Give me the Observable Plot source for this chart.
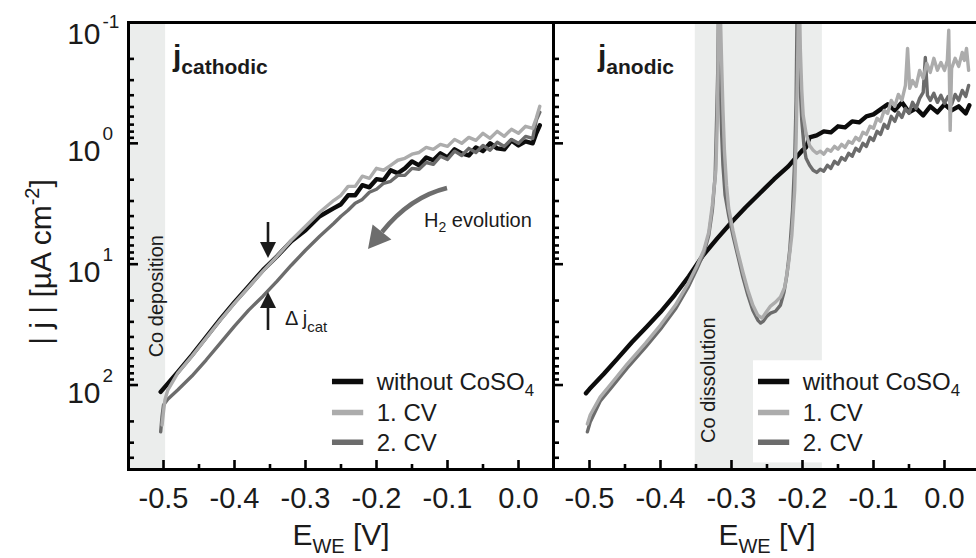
<!DOCTYPE html>
<html>
<head>
<meta charset="utf-8">
<script src="https://cdn.jsdelivr.net/npm/d3@7"></script>
<script src="https://cdn.jsdelivr.net/npm/@observablehq/plot@0.6"></script>
<style>
  body { margin: 0; background: #fff; }
  #wrap { position: relative; width: 976px; height: 558px; overflow: hidden; background: #fff; }
  #wrap svg { position: absolute; top: 0; }
</style>
</head>
<body>
<div id="wrap"></div>
<script>
// ---------------- data ----------------
const xMajor = [-0.5, -0.4, -0.3, -0.2, -0.1, 0.0];
const xMinor = [-0.45, -0.35, -0.25, -0.15, -0.05];
const yMajor = [0.1, 1, 10, 100];
const yExponents = ["-1", "0", "1", "2"];
const yMinor = [0.2,0.3,0.4,0.5,0.6,0.7,0.8,0.9,2,3,4,5,6,7,8,9,20,30,40,50,60,70,80,90,200,300,400];
const seriesNames = ["without CoSO4", "1. CV", "2. CV"];
const panelNames = [["j", "cathodic"], ["j", "anodic"]];
const bandNames = ["Co deposition", "Co dissolution"];

// cathodic panel
const cathE_without = [-0.504,-0.48,-0.46,-0.44,-0.42,-0.40,-0.38,-0.36,-0.34,-0.32,-0.30,-0.28,-0.26,-0.25,-0.24,-0.23,-0.22,-0.21,-0.20,-0.19,-0.18,-0.17,-0.16,-0.15,-0.14,-0.13,-0.12,-0.11,-0.10,-0.09,-0.08,-0.07,-0.06,-0.05,-0.04,-0.03,-0.02,-0.01,0.00,0.01,0.02,0.025,0.03];
const cathJ_without = [114,78.1,56.5,40.1,28.5,20.6,15.2,11.2,8.59,6.45,5.24,4.01,3.44,3.19,2.69,2.69,2.22,2.31,1.98,2.02,1.67,1.77,1.61,1.41,1.52,1.31,1.38,1.21,1.31,1.12,1.21,1.26,1.08,1.16,1.00,1.10,1.12,0.945,1.04,0.963,1.00,0.826,0.710];
const cathE_cv1 = [-0.502,-0.500,-0.498,-0.494,-0.48,-0.46,-0.44,-0.42,-0.40,-0.38,-0.36,-0.34,-0.32,-0.30,-0.28,-0.26,-0.25,-0.24,-0.23,-0.22,-0.21,-0.20,-0.19,-0.18,-0.17,-0.16,-0.15,-0.14,-0.13,-0.12,-0.11,-0.10,-0.09,-0.08,-0.07,-0.06,-0.05,-0.04,-0.03,-0.02,-0.01,0.00,0.01,0.02,0.025,0.03];
const cathJ_cv1 = [214,166,133,110,79.7,57.6,40.9,29.0,21.0,15.5,11.4,8.59,6.34,4.86,3.72,2.96,2.69,2.27,2.27,1.87,1.95,1.61,1.67,1.52,1.38,1.33,1.23,1.19,1.08,1.12,1.02,1.06,0.927,1.00,0.892,0.945,0.826,0.909,0.796,0.875,0.766,0.826,0.723,0.751,0.621,0.494];
const cathE_cv2 = [-0.504,-0.502,-0.500,-0.494,-0.48,-0.46,-0.44,-0.42,-0.40,-0.38,-0.36,-0.34,-0.32,-0.30,-0.28,-0.26,-0.25,-0.24,-0.23,-0.22,-0.21,-0.20,-0.19,-0.18,-0.17,-0.16,-0.15,-0.14,-0.13,-0.12,-0.11,-0.10,-0.09,-0.08,-0.07,-0.06,-0.05,-0.04,-0.03,-0.02,-0.01,0.00,0.01,0.02,0.025,0.03];
const cathJ_cv2 = [244,180,146,131,110,84.3,62.1,45.0,32.5,24.0,18.4,13.8,10.2,7.67,5.87,4.58,4.01,3.58,3.13,2.91,2.54,2.40,2.14,2.06,1.84,1.84,1.61,1.64,1.44,1.49,1.28,1.36,1.16,1.26,1.10,1.19,1.04,1.14,0.981,1.06,0.927,1.00,0.875,0.909,0.645,0.554];

// anodic panel
const anodE_without = [-0.505,-0.50,-0.48,-0.46,-0.44,-0.42,-0.40,-0.38,-0.36,-0.34,-0.32,-0.30,-0.28,-0.26,-0.24,-0.22,-0.21,-0.20,-0.195,-0.19,-0.18,-0.17,-0.16,-0.15,-0.14,-0.13,-0.12,-0.11,-0.10,-0.09,-0.08,-0.07,-0.06,-0.05,-0.04,-0.03,-0.02,-0.01,0.00,0.01,0.02,0.03,0.035];
const anodJ_without = [117,108,81.1,59.9,44.1,33.2,24.9,18.0,12.6,8.45,6.11,4.50,3.38,2.59,1.98,1.55,1.33,1.14,1.08,0.892,0.859,0.796,0.811,0.723,0.737,0.658,0.670,0.598,0.576,0.524,0.476,0.534,0.458,0.554,0.514,0.587,0.494,0.554,0.476,0.534,0.494,0.565,0.485];
const anodE_cv1 = [-0.503,-0.499,-0.485,-0.471,-0.447,-0.421,-0.400,-0.379,-0.361,-0.349,-0.339,-0.332,-0.327,-0.322,-0.320,-0.317,-0.314,-0.312,-0.310,-0.307,-0.304,-0.298,-0.291,-0.284,-0.277,-0.270,-0.263,-0.257,-0.252,-0.245,-0.238,-0.231,-0.225,-0.220,-0.215,-0.211,-0.209,-0.207,-0.205,-0.203,-0.201,-0.199,-0.195,-0.190,-0.185,-0.180,-0.175,-0.170,-0.165,-0.160,-0.155,-0.150,-0.145,-0.140,-0.135,-0.130,-0.125,-0.120,-0.115,-0.110,-0.105,-0.100,-0.095,-0.090,-0.085,-0.080,-0.075,-0.070,-0.065,-0.060,-0.055,-0.052,-0.049,-0.045,-0.040,-0.035,-0.030,-0.025,-0.020,-0.015,-0.010,-0.005,0.000,0.004,0.006,0.008,0.010,0.015,0.020,0.025,0.028,0.031,0.034];
const anodJ_cv1 = [210,177,126,100,67.0,45.0,31.9,21.8,14.4,10.4,7.67,5.44,3.25,1.67,0.645,0.04,0.206,0.534,1.14,2.22,3.44,5.24,7.97,11.6,16.4,21.8,26.4,27.9,25.4,22.2,20.6,18.7,15.5,10.2,5.76,2.45,0.945,0.249,0.04,0.170,0.365,0.587,0.826,1.04,1.14,1.21,1.16,1.23,1.12,1.16,1.06,1.12,1.02,1.08,0.963,1.00,0.892,0.945,0.811,0.843,0.723,0.751,0.621,0.658,0.534,0.565,0.441,0.494,0.394,0.441,0.332,0.164,0.351,0.302,0.338,0.249,0.290,0.218,0.259,0.198,0.249,0.214,0.249,0.206,0.116,0.781,0.240,0.198,0.231,0.177,0.206,0.164,0.249];
const anodE_cv2 = [-0.503,-0.499,-0.485,-0.471,-0.447,-0.421,-0.400,-0.379,-0.361,-0.349,-0.339,-0.332,-0.327,-0.323,-0.321,-0.319,-0.318,-0.316,-0.314,-0.312,-0.309,-0.304,-0.298,-0.291,-0.284,-0.277,-0.270,-0.263,-0.259,-0.255,-0.250,-0.245,-0.238,-0.231,-0.226,-0.222,-0.218,-0.214,-0.211,-0.209,-0.207,-0.205,-0.203,-0.201,-0.198,-0.195,-0.190,-0.185,-0.180,-0.175,-0.170,-0.165,-0.160,-0.155,-0.150,-0.145,-0.140,-0.135,-0.130,-0.125,-0.120,-0.115,-0.110,-0.105,-0.100,-0.095,-0.090,-0.085,-0.080,-0.075,-0.070,-0.065,-0.060,-0.055,-0.050,-0.045,-0.040,-0.035,-0.030,-0.027,-0.024,-0.020,-0.015,-0.010,-0.005,0.000,0.005,0.010,0.015,0.020,0.025,0.030,0.034];
const anodJ_cv2 = [244,202,136,108,72.4,48.5,34.5,23.5,15.5,11.0,8.11,5.76,3.58,1.84,0.645,0.206,0.04,0.249,0.781,1.52,2.69,3.94,5.76,8.59,12.8,18.0,24.0,29.0,30.7,29.6,26.9,25.4,24.5,21.8,17.0,12.3,7.67,3.58,1.38,0.441,0.04,0.141,0.365,0.645,1.04,1.33,1.52,1.67,1.74,1.64,1.70,1.52,1.61,1.41,1.49,1.31,1.38,1.21,1.28,1.10,1.16,1.00,1.06,0.892,0.945,0.796,0.843,0.696,0.751,0.598,0.658,0.554,0.610,0.514,0.565,0.458,0.514,0.425,0.379,0.195,0.401,0.441,0.386,0.458,0.401,0.467,0.409,0.476,0.394,0.441,0.365,0.409,0.332];

// ---------------- styling ----------------
const FONT = "'Liberation Sans', Arial, Helvetica, sans-serif";
const INK = "#1b1b1b";
const COLORS = ["#0c0c0c", "#acacac", "#6c6c6c"];
const WIDTHS = [4.4, 3.4, 3.4];
const BAND = "#ebedec";
const Y_DOMAIN = [0.1, 500];

const zip = (E, J) => E.map((e, i) => ({E: e, J: J[i]}));

function rich(svg, x, y, parts, opt = {}) {
  const t = d3.select(svg).append("text")
    .attr("x", x).attr("y", y)
    .attr("font-family", FONT)
    .attr("fill", opt.fill || INK)
    .attr("text-anchor", opt.anchor || "start");
  if (opt.weight) t.attr("font-weight", opt.weight);
  if (opt.rotate) t.attr("transform", `rotate(${opt.rotate},${x},${y})`);
  let shift = 0;
  for (const p of parts) {
    const s = t.append("tspan").attr("font-size", p.size).text(p.text);
    const target = p.shift || 0;
    if (target !== shift) { s.attr("dy", target - shift); shift = target; }
  }
  return t;
}

function nameParts(name, size) {
  const m = name.match(/^(.*[A-Za-z])(\d)$/);
  if (m) return [{text: m[1], size}, {text: m[2], size: size * 0.7, shift: 6}];
  return [{text: name, size}];
}

function panel({width, marginLeft, xDomain, series, band, bandLabel, legendBox, yLabels}) {
  const marks = [];
  marks.push(Plot.rect([band], {x1: d => d[0], x2: d => d[1], y1: Y_DOMAIN[0], y2: Y_DOMAIN[1], fill: BAND}));
  if (legendBox) marks.push(Plot.rect([legendBox], {x1: d => d[0], x2: d => d[1], y1: d => d[2], y2: d => d[3], fill: "white"}));
  marks.push(Plot.text([bandLabel.text], {x: bandLabel.x, y: bandLabel.y, text: d => d, rotate: -90, fontSize: 20, fill: INK, textAnchor: "middle"}));
  // series: draw black first, then 2. CV, then 1. CV on top
  for (const i of [0, 2, 1]) {
    marks.push(Plot.line(series[i], {x: "E", y: "J", stroke: COLORS[i], strokeWidth: WIDTHS[i], strokeLinejoin: "round", strokeLinecap: "round", clip: true}));
  }
  marks.push(Plot.frame({stroke: "black", strokeWidth: 3}));
  marks.push(Plot.axisY({ticks: yMajor, tickSize: -10, tickFormat: () => "", strokeWidth: 2.6, label: null}));
  marks.push(Plot.axisY({ticks: yMinor, tickSize: -6, tickFormat: () => "", strokeWidth: 2.6, label: null}));
  marks.push(Plot.axisX({ticks: xMajor, tickSize: -9, tickFormat: () => "", strokeWidth: 2.6, label: null}));
  marks.push(Plot.axisX({ticks: xMinor, tickSize: -5, tickFormat: () => "", strokeWidth: 2.6, label: null}));
  marks.push(Plot.axisX({ticks: xMajor, tickSize: 0, tickPadding: 18, tickFormat: d => d.toFixed(1), fontSize: 29, fill: INK, label: null}));
  if (yLabels) {
    const rows = yMajor.map((v, i) => ({v, e: yExponents[i]}));
    marks.push(Plot.text(rows.slice(1), {x: xDomain[0], y: "v", text: () => "10", textAnchor: "end", dx: -28, dy: 8, fontSize: 30, fill: INK}));
    marks.push(Plot.text(rows.slice(1), {x: xDomain[0], y: "v", text: "e", textAnchor: "start", dx: -26, dy: -9, fontSize: 19, fill: INK}));
    marks.push(Plot.text(rows.slice(0, 1), {x: xDomain[0], y: "v", text: () => "10", textAnchor: "end", dx: -28, dy: 12, fontSize: 30, fill: INK}));
    marks.push(Plot.text(rows.slice(0, 1), {x: xDomain[0], y: "v", text: "e", textAnchor: "start", dx: -26, dy: -1, fontSize: 19, fill: INK}));
  }
  return Plot.plot({
    width, height: 558,
    marginLeft, marginRight: 0, marginTop: 22, marginBottom: 89,
    x: {type: "linear", domain: xDomain},
    y: {type: "log", domain: Y_DOMAIN, reverse: true},
    style: {fontFamily: FONT, background: "none", overflow: "visible"},
    marks
  });
}

function legend(svg, names) {
  const sx = svg.scale("x"), sy = svg.scale("y");
  const rowsY = [94.5, 170, 301];
  const g = d3.select(svg);
  names.forEach((name, i) => {
    const y = sy.apply(rowsY[i]);
    g.append("line").attr("x1", sx.apply(-0.262)).attr("x2", sx.apply(-0.218))
      .attr("y1", y).attr("y2", y).attr("stroke", COLORS[i]).attr("stroke-width", 5.5);
    rich(svg, sx.apply(-0.199), y + 8.5, nameParts(name, 24));
  });
}

// ---------------- build ----------------
const wrap = document.getElementById("wrap");

const left = panel({
  width: 553, marginLeft: 128, xDomain: [-0.5493, 0.0493],
  series: [zip(cathE_without, cathJ_without), zip(cathE_cv1, cathJ_cv1), zip(cathE_cv2, cathJ_cv2)],
  band: [-0.5493, -0.497],
  bandLabel: {text: bandNames[0], x: -0.510, y: 18.4},
  yLabels: true
});
left.style.left = "0px";
wrap.appendChild(left);

const right = panel({
  width: 425, marginLeft: 0, xDomain: [-0.5507, 0.0479],
  series: [zip(anodE_without, anodJ_without), zip(anodE_cv1, anodJ_cv1), zip(anodE_cv2, anodJ_cv2)],
  band: [-0.351, -0.172],
  bandLabel: {text: bandNames[1], x: -0.332, y: 91.0},
  legendBox: [-0.269, 0.0479, 63, 441],
  yLabels: false
});
right.style.left = "553px";
wrap.appendChild(right);

// axis titles
rich(left, 51, 262, [{text: "| j | [µA cm", size: 30}, {text: "-2", size: 20, shift: -12}, {text: "]", size: 30, shift: 0}], {anchor: "middle", rotate: -90});
rich(left, 341, 545, [{text: "E", size: 30}, {text: "WE", size: 20, shift: 8}, {text: " [V]", size: 30, shift: 0}], {anchor: "middle"});
rich(right, 214, 545, [{text: "E", size: 30}, {text: "WE", size: 20, shift: 8}, {text: " [V]", size: 30, shift: 0}], {anchor: "middle"});

// panel labels
rich(left, 173, 66, [{text: panelNames[0][0], size: 30}, {text: panelNames[0][1], size: 21, shift: 8}], {weight: "bold"});
rich(right, 45, 66, [{text: panelNames[1][0], size: 30}, {text: panelNames[1][1], size: 21, shift: 8}], {weight: "bold"});

// legends
legend(left, seriesNames);
legend(right, seriesNames);

// H2 evolution arrow and delta-j annotation
{
  const g = d3.select(left);
  g.append("path").attr("d", "M447,188 Q410,197 382,232").attr("fill", "none").attr("stroke", "#6d6d6d").attr("stroke-width", 4.5);
  g.append("path").attr("d", "M368,249 L391.4,239.5 L372.6,224.5 Z").attr("fill", "#6d6d6d");
  rich(left, 424, 227, [{text: "H", size: 20}, {text: "2", size: 14, shift: 5}, {text: " evolution", size: 20, shift: 0}]);
  g.append("line").attr("x1", 268).attr("x2", 268).attr("y1", 222).attr("y2", 246).attr("stroke", INK).attr("stroke-width", 2.6);
  g.append("path").attr("d", "M260,242 L276,242 L268,258 Z").attr("fill", INK);
  g.append("line").attr("x1", 268).attr("x2", 268).attr("y1", 304).attr("y2", 330).attr("stroke", INK).attr("stroke-width", 2.6);
  g.append("path").attr("d", "M260,308 L276,308 L268,292 Z").attr("fill", INK);
  rich(left, 285, 325, [{text: "Δ j", size: 20}, {text: "cat", size: 15, shift: 7}]);
}
</script>
</body>
</html>
